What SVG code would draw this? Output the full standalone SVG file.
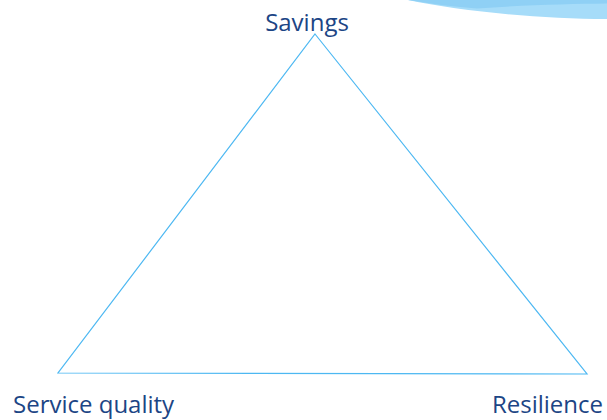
<svg xmlns="http://www.w3.org/2000/svg" width="607" height="420" viewBox="0 0 607 420">
<style>
.lbl{font-family:"Open Sans","Liberation Sans",sans-serif;font-size:24px;fill:#1c4585}
.edge{fill:none;stroke:#4db8f2;stroke-width:1.2}
</style>
<rect width="607" height="420" fill="#ffffff"/>
<g id="swoosh">
<path d="M408,0 C460,11 540,19 607,19 L607,0 Z" fill="#a6dcf9"/>
<path d="M408,0 C432,4 455,7 477,8.5 C525,5 570,4 607,3.5 L607,0 Z" fill="#8fd0f5"/>
</g>
<g id="connectors">
<path class="edge" d="M315,34 L587,374 L58,373 Z"/>
</g>
<g id="savings"><text class="lbl" x="307" y="31" text-anchor="middle">Savings</text></g>
<g id="service-quality"><text class="lbl" x="13" y="413">Service quality</text></g>
<g id="resilience"><text class="lbl" x="603" y="413" text-anchor="end">Resilience</text></g>
</svg>
